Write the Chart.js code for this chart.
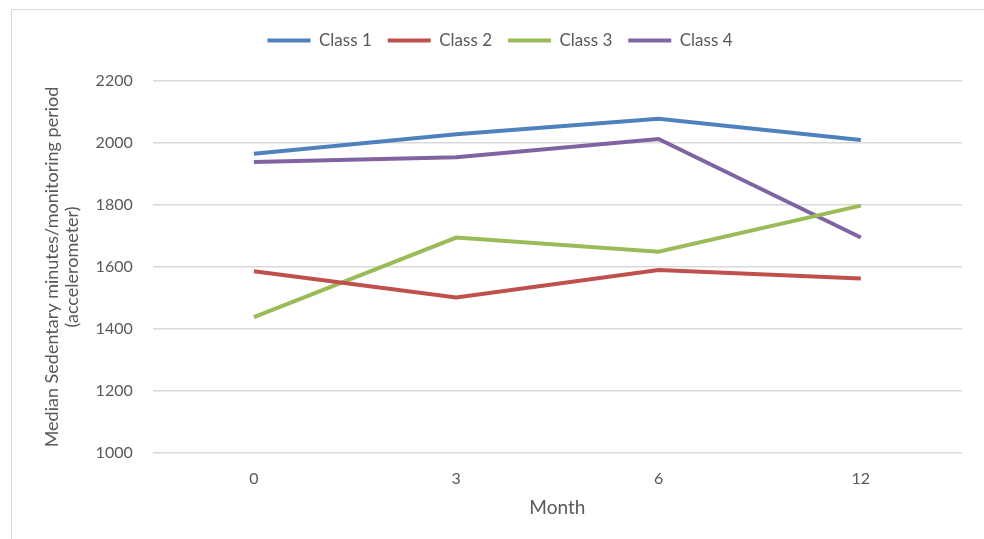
<!DOCTYPE html>
<html>
<head>
<meta charset="utf-8">
<script src="https://cdn.jsdelivr.net/npm/chart.js@4"></script>
<style>
  html, body { margin: 0; padding: 0; background: #fff; }
  #wrap { position: relative; width: 984px; height: 539px; overflow: hidden; }
  #frame { position: absolute; left: 11px; top: 9px; width: 1100px; height: 700px; border: 1px solid #d9d9d9; box-sizing: border-box; }
  canvas { position: absolute; left: 0; top: 0; }
</style>
</head>
<body>
<div id="wrap">
  <div id="frame"></div>
  <canvas id="chart" width="984" height="539"></canvas>
</div>
<script>
// --- DATA ---
const months = ['0', '3', '6', '12'];
const class1 = [1965, 2028, 2078, 2010];
const class2 = [1586, 1502, 1590, 1563];
const class3 = [1438, 1695, 1649, 1798];
const class4 = [1939, 1954, 2013, 1695];
const seriesNames = ['Class 1', 'Class 2', 'Class 3', 'Class 4'];
const seriesColors = ['#4f81bd', '#c0504d', '#9bbb59', '#8064a2'];

const FONT = "Lato, 'Open Sans', sans-serif";
const TEXT = '#595959';

function makeSet(i, values) {
    return {
        label: seriesNames[i],
        data: values,
        borderColor: seriesColors[i],
        backgroundColor: seriesColors[i],
        borderWidth: 4,
        pointRadius: 0,
        tension: 0,
        fill: false
    };
}

// extra space under the legend so the plot starts lower
const legendGap = {
    id: 'legendGap',
    beforeInit(chart) {
        const fit = chart.legend.fit;
        chart.legend.fit = function () {
            fit.bind(chart.legend)();
            this.height += 22;
        };
    }
};

const ctx = document.getElementById('chart').getContext('2d');
new Chart(ctx, {
    type: 'line',
    data: {
        labels: months,
        datasets: [makeSet(0, class1), makeSet(1, class2), makeSet(2, class3), makeSet(3, class4)]
    },
    options: {
        responsive: false,
        animation: false,
        layout: { padding: { left: 38, right: 22, top: 16, bottom: 16 } },
        plugins: {
            legend: {
                position: 'top',
                labels: {
                    boxWidth: 43,
                    boxHeight: 4,
                    padding: 16,
                    color: TEXT,
                    font: { family: FONT, size: 17 },
                    generateLabels(chart) {
                        return chart.data.datasets.map((ds, i) => ({
                            text: ds.label,
                            fillStyle: ds.borderColor,
                            strokeStyle: ds.borderColor,
                            lineWidth: 0,
                            fontColor: TEXT,
                            datasetIndex: i
                        }));
                    }
                }
            },
            tooltip: { enabled: false }
        },
        scales: {
            x: {
                offset: true,
                grid: { display: false },
                border: { display: false },
                ticks: { color: TEXT, font: { family: FONT, size: 16 }, padding: 8 },
                title: { display: true, text: 'Month', color: TEXT, font: { family: FONT, size: 19 }, padding: { top: 0 } }
            },
            y: {
                min: 1000,
                max: 2200,
                ticks: {
                    stepSize: 200,
                    color: TEXT,
                    font: { family: FONT, size: 16 },
                    padding: 20,
                    callback: v => String(v)
                },
                grid: { color: '#d9d9d9', lineWidth: 1.5, drawTicks: false },
                border: { display: false },
                title: {
                    display: true,
                    text: ['Median Sedentary minutes/monitoring period', '(accelerometer)'],
                    color: TEXT,
                    font: { family: FONT, size: 18, lineHeight: 1.1 },
                    padding: { bottom: -6 }
                }
            }
        }
    },
    plugins: [legendGap]
});
</script>
</body>
</html>
